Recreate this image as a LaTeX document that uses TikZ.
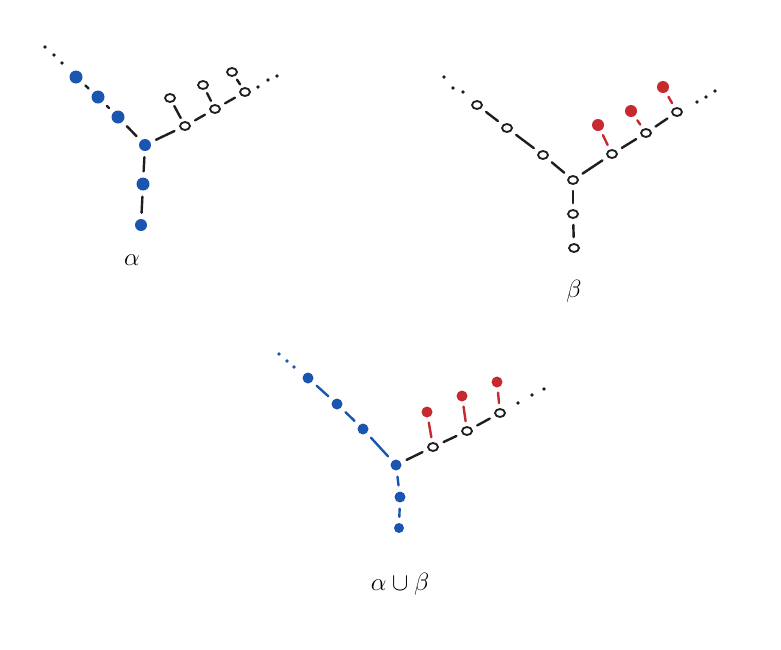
\documentclass[tikz,border=0pt]{standalone}
\usetikzlibrary{shapes.geometric}
\definecolor{bl}{HTML}{1A56B0}
\definecolor{rd}{HTML}{C62A2E}
\definecolor{ink}{HTML}{1E1E1E}
\begin{document}
\begin{tikzpicture}[x=1pt,y=-1pt,
  bnode/.style={circle,fill=bl,inner sep=0pt,minimum size=13pt},
  sbnode/.style={circle,fill=bl,inner sep=0pt,minimum size=11pt},
  rnode/.style={circle,fill=rd,inner sep=0pt,minimum size=11pt},
  onode/.style={ellipse,draw=ink,line width=1.8pt,inner sep=0pt,minimum width=10pt,minimum height=8pt},
  ddot/.style={circle,fill=ink,inner sep=0pt,minimum size=3.8pt},
  bdot/.style={circle,fill=bl,inner sep=0pt,minimum size=3.8pt},
  edge/.style={draw=ink,line width=2.4pt,line cap=round,shorten <=6pt,shorten >=6pt},
  bedge/.style={edge,draw=bl},
  redge/.style={edge,draw=rd,shorten <=5pt,shorten >=5pt},
  lab/.style={font=\fontsize{28}{32}\selectfont}]
\useasboundingbox[fill=white] (0,0) rectangle (781,649);

% ---------- alpha ----------
\node[ddot] (ad1) at (45,47) {};
\node[ddot] (ad2) at (54,55) {};
\node[ddot] (ad3) at (62,63) {};
\node[bnode] (a1) at (76,77) {};
\node[bnode] (a2) at (98,97) {};
\node[bnode] (a3) at (118,117) {};
\node[sbnode,minimum size=12pt] (ac) at (145,145) {};
\node[bnode] (a4) at (143,184) {};
\node[sbnode,minimum size=12pt] (a5) at (141,225) {};
\node[onode] (ao1) at (185,126) {};
\node[onode] (ao2) at (215,109) {};
\node[onode] (ao3) at (245,92) {};
\node[onode] (ap1) at (170,98) {};
\node[onode] (ap2) at (203,85) {};
\node[onode] (ap3) at (232,72) {};
\node[ddot] (ae1) at (258,87) {};
\node[ddot] (ae2) at (268,80) {};
\node[ddot] (ae3) at (277,76) {};
\draw[edge] (a1) -- (a2);
\draw[edge] (a2) -- (a3);
\draw[edge] (a3) -- (ac);
\draw[edge] (ac) -- (a4);
\draw[edge] (a4) -- (a5);
\draw[edge] (ac) -- (ao1);
\draw[edge] (ao1) -- (ao2);
\draw[edge] (ao2) -- (ao3);
\draw[edge,shorten <=4pt,shorten >=4pt] (ao1) -- (ap1);
\draw[edge,shorten <=4pt,shorten >=4pt] (ao2) -- (ap2);
\draw[edge,shorten <=4pt,shorten >=4pt] (ao3) -- (ap3);
\node[lab] (la) at (132,260) {$\alpha$};

% ---------- beta ----------
\node[ddot] (bd1) at (444,77) {};
\node[ddot] (bd2) at (453,88) {};
\node[ddot] (bd3) at (463,92) {};
\node[onode] (b1) at (477,105) {};
\node[onode] (b2) at (507,128) {};
\node[onode] (b3) at (543,155) {};
\node[onode] (bc) at (573,180) {};
\node[onode] (b4) at (573,214) {};
\node[onode] (b5) at (574,248) {};
\node[onode] (bo1) at (612,154) {};
\node[onode] (bo2) at (646,133) {};
\node[onode] (bo3) at (677,112) {};
\node[rnode,minimum size=12pt] (br1) at (598,125) {};
\node[rnode,minimum size=12pt] (br2) at (631,111) {};
\node[rnode,minimum size=12pt] (br3) at (663,87) {};
\node[ddot] (be1) at (697,102) {};
\node[ddot] (be2) at (706,97) {};
\node[ddot] (be3) at (715,91) {};
\draw[edge] (b1) -- (b2);
\draw[edge] (b2) -- (b3);
\draw[edge] (b3) -- (bc);
\draw[edge] (bc) -- (b4);
\draw[edge] (b4) -- (b5);
\draw[edge] (bc) -- (bo1);
\draw[edge] (bo1) -- (bo2);
\draw[edge] (bo2) -- (bo3);
\draw[redge] (bo1) -- (br1);
\draw[redge] (bo2) -- (br2);
\draw[redge] (bo3) -- (br3);
\node[lab] (lb) at (574,291) {$\beta$};

% ---------- alpha cup beta ----------
\node[bdot] (ud1) at (279,354) {};
\node[bdot] (ud2) at (287,361) {};
\node[bdot] (ud3) at (294,367) {};
\node[sbnode] (u1) at (308,378) {};
\node[sbnode] (u2) at (337,404) {};
\node[sbnode] (u3) at (363,429) {};
\node[sbnode] (uc) at (396,465) {};
\node[sbnode] (u4) at (400,497) {};
\node[sbnode,minimum size=10pt] (u5) at (399,528) {};
\node[onode] (uo1) at (433,447) {};
\node[onode] (uo2) at (467,431) {};
\node[onode] (uo3) at (500,413) {};
\node[rnode] (ur1) at (427,412) {};
\node[rnode] (ur2) at (462,396) {};
\node[rnode] (ur3) at (497,382) {};
\node[ddot] (ue1) at (518,403) {};
\node[ddot] (ue2) at (532,395) {};
\node[ddot] (ue3) at (544,389) {};
\draw[bedge] (u1) -- (u2);
\draw[bedge] (u2) -- (u3);
\draw[bedge] (u3) -- (uc);
\draw[bedge] (uc) -- (u4);
\draw[bedge] (u4) -- (u5);
\draw[edge] (uc) -- (uo1);
\draw[edge] (uo1) -- (uo2);
\draw[edge] (uo2) -- (uo3);
\draw[redge] (uo1) -- (ur1);
\draw[redge] (uo2) -- (ur2);
\draw[redge] (uo3) -- (ur3);
\node[lab] (lu) at (400,584) {$\alpha\cup\beta$};
\end{tikzpicture}
\end{document}
